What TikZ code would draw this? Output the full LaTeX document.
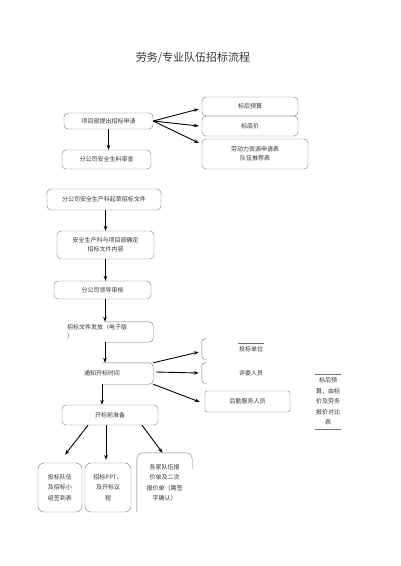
\documentclass[tikz,border=0pt]{standalone}
\usepackage{fontspec}
\newfontfamily\cjk{Noto Sans CJK SC}
\usetikzlibrary{arrows.meta,calc,positioning}

\begin{document}
\begin{tikzpicture}[x=1pt,y=-1pt,>={Stealth[length=5pt,width=3.6pt]},
  font=\cjk\fontsize{6}{9}\selectfont,
  box/.style={draw=black!55,rounded corners=4pt,inner sep=0pt,align=center,text=black!80},
  bare/.style={inner sep=0pt,align=center,text=black!80},
  half/.style={draw=black!55,rounded corners=4pt},
  arr/.style={->,line width=0.9pt},
  tall/.style={font=\cjk\fontsize{6}{10.5}\selectfont}]
\useasboundingbox (0,0) rectangle (400,566);
  % title
  \node[font=\cjk\fontsize{11}{13}\selectfont,text=black!80] (title) at (193,58) {劳务/专业队伍招标流程};
  % application
  \node[box,minimum width=89,minimum height=16] (apply) at (108.5,121) {项目部提出招标申请};
  \node[box,minimum width=89,minimum height=19] (check) at (106.5,159.5) {分公司安全生料审查};
  \node[box,minimum width=96,minimum height=19] (budget) at (250,106.5) {标后预算};
  \node[box,minimum width=96,minimum height=20] (base) at (250,126) {标底价};
  \node[box,minimum width=106,minimum height=30] (labour) at (255,154) {劳动力资源申请表\\队伍推荐表};
  \draw[arr] (apply.south) -- (apply.south |- check.north);
  \draw[arr] (apply.east) -- ($(budget.west)+(-3,2.5)$);
  \draw[arr] (apply.east) -- ($(base.west)+(-3,0)$);
  \draw[arr] (apply.east) -- ($(labour.west)+(-3,-11)$);
  % tender documents
  \node[box,minimum width=114,minimum height=21] (draft) at (104,199.5) {分公司安全生产科起草招标文件};
  \node[box,minimum width=97,minimum height=28] (confirm) at (105.5,245) {安全生产科与项目部确定\\招标文件内容};
  \node[box,minimum width=97,minimum height=18] (review) at (102.5,290) {分公司领导审核};
  \node[bare,text width=76,inner xsep=10,minimum height=20,align=left] (issue) at (105,332) {招标文件发放（电子版\\）};
  \draw[half] (issue.north) -- (issue.north east) -- (issue.south east) -- (issue.south);
  \node[bare,minimum width=102,minimum height=21] (notify) at (102,373.5) {通知开标时间};
  \draw[half] (notify.north) -- (notify.north east) -- (notify.south east) -- (notify.south);
  \draw[arr] (draft.south -| confirm.north) -- (confirm.north);
  \draw[arr] (confirm.south) -- (confirm.south |- review.north);
  \draw[arr] (review.south -| issue.north) -- (issue.north);
  \draw[arr] (issue.south) -- (issue.south |- notify.north);
  % who is notified
  \node[bare,minimum width=98,minimum height=20] (bidder) at (251,349) {投标单位};
  \draw[half,rounded corners=3pt] ($(bidder.north west)+(5,0)$) -- (bidder.north west) -- (bidder.south west) -- ($(bidder.south west)+(5,0)$);
  \draw[black!55] ($(bidder.center)+(-13,-5.5)$) -- ($(bidder.center)+(13,-5.5)$);
  \node[bare,minimum width=98,minimum height=20] (judge) at (251,373) {评委人员};
  \draw[half,rounded corners=3pt] ($(judge.north west)+(5,0)$) -- (judge.north west) -- (judge.south west) -- ($(judge.south west)+(5,0)$);
  \node[box,rounded corners=1.5pt,minimum width=85,minimum height=21] (logistic) at (247.5,401.5) {后勤服务人员};
  \draw[arr] (notify.north east) -- ($(bidder.west)+(-3,3)$);
  \draw[arr] ($(notify.east)+(3,-1.5)$) -- ($(judge.west)+(-3,0)$);
  \draw[arr] (notify.south east) -- ($(logistic.west)+(-5,0.5)$);
  \node[bare,tall,text width=26,inner ysep=3.5] (note) at (328,401.5) {标后预\\算，由标\\价及劳务\\报价对比\\表};
  \draw[black!55,line width=0.7pt] (note.north west) -- (note.north east);
  \draw[black!55,line width=0.7pt] (note.south west) -- (note.south east);
  % opening preparation
  \node[box,minimum width=96,minimum height=20] (prep) at (110,415) {开标前准备};
  \draw[arr] (notify.south) -- (notify.south |- prep.north);
  \node[box,tall,rounded corners=6pt,minimum width=44,minimum height=49] (signin) at (60,487.5) {投标队伍\\及招标小\\组签到表};
  \node[box,tall,rounded corners=6pt,minimum width=46,minimum height=49] (ppt) at (108,487.5) {招标PPT、\\及开标议\\程};
  \node[bare,tall,text width=40,inner xsep=7.5,minimum height=59] (quote) at (164.5,482.5) {各家队伍报\\价单及二次\\报价单（需签\\字确认）};
  \draw[half,rounded corners=6pt] (quote.south west) -- (quote.north west) -- (quote.north east) -- ($(quote.north east)+(0,16)$);
  \draw[arr] ($(prep.south)+(-22,0)$) -- ($(signin.north)+(5,-8)$);
  \draw[arr] ($(prep.south)+(-4,0)$) -- ($(ppt.north)+(-2,-3)$);
  \draw[arr] ($(prep.south)+(32,0)$) -- ($(quote.north)+(-2,0)$);
\end{tikzpicture}
\end{document}
